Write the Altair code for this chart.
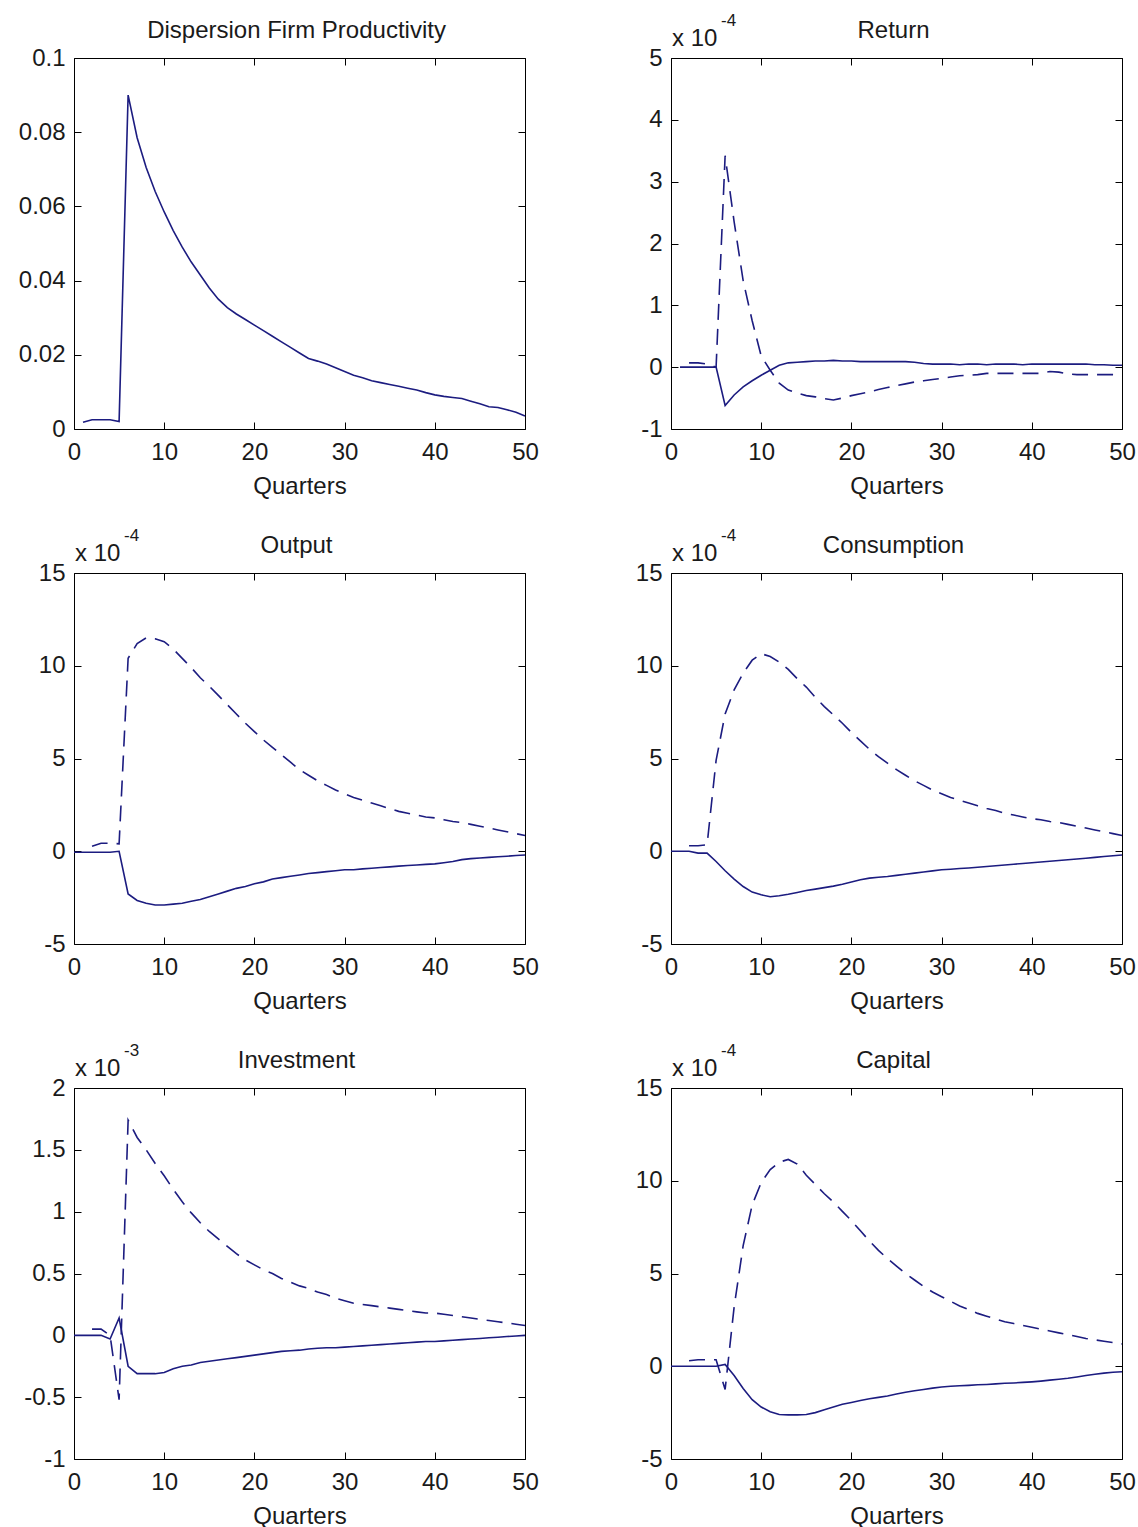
import altair as alt
import pandas as pd

# ---------------- data ----------------
x_ticks = [0, 10, 20, 30, 40, 50]

disp_x = list(range(1, 51))
disp_solid = [0.0018, 0.0025, 0.0025, 0.0025, 0.0020, 0.0900, 0.0785, 0.0705, 0.0640, 0.0585,
              0.0535, 0.0490, 0.0450, 0.0415, 0.0380, 0.0350, 0.0327, 0.0310, 0.0295, 0.0280,
              0.0265, 0.0250, 0.0235, 0.0220, 0.0205, 0.0190, 0.0183, 0.0175, 0.0165, 0.0155,
              0.0145, 0.0138, 0.0130, 0.0125, 0.0120, 0.0115, 0.0110, 0.0105, 0.0098, 0.0092,
              0.0088, 0.0085, 0.0082, 0.0075, 0.0068, 0.0060, 0.0058, 0.0052, 0.0045, 0.0035]
disp_yticks = [0, 0.02, 0.04, 0.06, 0.08, 0.1]

ret_x = list(range(1, 51))
ret_solid = [0, 0, 0, 0, 0, -0.62, -0.45, -0.32, -0.22, -0.13,
             -0.05, 0.03, 0.07, 0.08, 0.09, 0.10, 0.10, 0.11, 0.10, 0.10,
             0.09, 0.09, 0.09, 0.09, 0.09, 0.09, 0.08, 0.06, 0.05, 0.05,
             0.05, 0.04, 0.05, 0.05, 0.04, 0.05, 0.05, 0.05, 0.04, 0.05,
             0.05, 0.05, 0.05, 0.05, 0.05, 0.05, 0.04, 0.04, 0.03, 0.03]
ret_dash_x = list(range(2, 51))
ret_dash = [0.07, 0.07, 0.05, 0.0, 3.42, 2.35, 1.4, 0.75, 0.18,
            -0.05, -0.26, -0.37, -0.42, -0.46, -0.48, -0.51, -0.53, -0.5, -0.46,
            -0.43, -0.4, -0.36, -0.33, -0.3, -0.27, -0.24, -0.22, -0.2, -0.18,
            -0.16, -0.14, -0.13, -0.12, -0.1, -0.1, -0.1, -0.1, -0.1, -0.1,
            -0.1, -0.07, -0.08, -0.11, -0.12, -0.12, -0.12, -0.12, -0.12, -0.12]
ret_yticks = [-1, 0, 1, 2, 3, 4, 5]

out_x = list(range(0, 51))
out_solid = [-0.05, -0.05, -0.05, -0.05, -0.05, 0.0, -2.3, -2.65, -2.8, -2.9, -2.9,
             -2.85, -2.8, -2.7, -2.6, -2.45, -2.3, -2.15, -2.0, -1.9, -1.75,
             -1.65, -1.5, -1.42, -1.35, -1.28, -1.2, -1.15, -1.1, -1.05, -1.0,
             -1.0, -0.95, -0.92, -0.88, -0.84, -0.8, -0.77, -0.74, -0.71, -0.68,
             -0.62, -0.55, -0.45, -0.4, -0.36, -0.33, -0.3, -0.27, -0.23, -0.2]
out_dash_x = list(range(2, 51))
out_dash = [0.27, 0.43, 0.43, 0.4, 10.4, 11.2, 11.5, 11.45, 11.3,
            10.9, 10.4, 9.9, 9.35, 8.9, 8.4, 7.9, 7.4, 6.9, 6.45,
            6.0, 5.6, 5.2, 4.8, 4.4, 4.1, 3.8, 3.55, 3.3, 3.1,
            2.9, 2.75, 2.6, 2.45, 2.3, 2.15, 2.05, 1.95, 1.85, 1.8,
            1.7, 1.6, 1.55, 1.45, 1.35, 1.25, 1.15, 1.05, 0.95, 0.85]
big_yticks = [-5, 0, 5, 10, 15]

con_x = list(range(0, 51))
con_solid = [0, 0, 0, -0.1, -0.1, -0.55, -1.05, -1.5, -1.9, -2.2, -2.35,
             -2.45, -2.4, -2.32, -2.22, -2.12, -2.04, -1.96, -1.88, -1.78, -1.66,
             -1.54, -1.45, -1.4, -1.36, -1.3, -1.24, -1.18, -1.12, -1.06, -1.0,
             -0.97, -0.93, -0.9, -0.86, -0.82, -0.78, -0.74, -0.7, -0.66, -0.62,
             -0.58, -0.54, -0.5, -0.46, -0.42, -0.38, -0.33, -0.28, -0.24, -0.2]
con_dash_x = list(range(2, 51))
con_dash = [0.3, 0.3, 0.35, 4.9, 7.4, 8.7, 9.6, 10.3, 10.65,
            10.5, 10.2, 9.8, 9.3, 8.85, 8.3, 7.8, 7.35, 6.9, 6.4,
            5.95, 5.5, 5.1, 4.75, 4.4, 4.1, 3.8, 3.55, 3.3, 3.1,
            2.9, 2.75, 2.6, 2.45, 2.3, 2.2, 2.05, 1.95, 1.85, 1.75,
            1.7, 1.6, 1.55, 1.45, 1.35, 1.25, 1.15, 1.05, 0.95, 0.85]

inv_x = list(range(0, 51))
inv_solid = [0, 0, 0, 0, -0.03, 0.14, -0.25, -0.31, -0.31, -0.31, -0.3,
             -0.27, -0.25, -0.24, -0.22, -0.21, -0.2, -0.19, -0.18, -0.17, -0.16,
             -0.15, -0.14, -0.13, -0.125, -0.12, -0.11, -0.105, -0.1, -0.1, -0.095,
             -0.09, -0.085, -0.08, -0.075, -0.07, -0.065, -0.06, -0.055, -0.05, -0.05,
             -0.045, -0.04, -0.035, -0.03, -0.025, -0.02, -0.015, -0.01, -0.005, 0.0]
inv_dash_x = list(range(2, 51))
inv_dash = [0.05, 0.05, 0.0, -0.52, 1.74, 1.6, 1.5, 1.39, 1.29,
            1.18, 1.08, 0.99, 0.91, 0.84, 0.78, 0.72, 0.66, 0.61, 0.57,
            0.53, 0.5, 0.46, 0.43, 0.4, 0.38, 0.35, 0.33, 0.3, 0.28,
            0.26, 0.25, 0.24, 0.23, 0.22, 0.21, 0.2, 0.19, 0.18, 0.18,
            0.17, 0.16, 0.15, 0.14, 0.13, 0.12, 0.11, 0.1, 0.09, 0.08]
inv_yticks = [-1, -0.5, 0, 0.5, 1, 1.5, 2]

cap_x = list(range(0, 51))
cap_solid = [0, 0, 0, 0, 0, 0, 0.1, -0.5, -1.2, -1.8, -2.2,
             -2.45, -2.6, -2.62, -2.62, -2.6, -2.5, -2.35, -2.2, -2.05, -1.95,
             -1.85, -1.75, -1.68, -1.6, -1.5, -1.4, -1.32, -1.25, -1.18, -1.12,
             -1.08, -1.05, -1.03, -1.0, -0.98, -0.95, -0.92, -0.9, -0.87, -0.84,
             -0.8, -0.75, -0.7, -0.65, -0.58, -0.5, -0.43, -0.37, -0.32, -0.3]
cap_dash_x = list(range(2, 51))
cap_dash = [0.3, 0.35, 0.35, 0.35, -1.25, 3.2, 6.5, 8.7, 9.9,
            10.6, 11.0, 11.15, 10.9, 10.3, 9.8, 9.3, 8.85, 8.35, 7.85,
            7.3, 6.75, 6.25, 5.8, 5.4, 5.0, 4.65, 4.3, 4.0, 3.75,
            3.5, 3.25, 3.05, 2.85, 2.7, 2.55, 2.4, 2.3, 2.2, 2.1,
            2.0, 1.9, 1.8, 1.7, 1.6, 1.5, 1.42, 1.35, 1.28, 1.2]

# ---------------- styling ----------------
W, H = 451, 371
NAVY = "#1c1c80"
TXT = "#1a1a1a"
FONT = "Liberation Sans"
FS = 24


def panel(title, expo, sx, sy, dx, dy, ydom, yticks):
    xsc = alt.Scale(domain=[0, 50], nice=False, zero=False)
    ysc = alt.Scale(domain=ydom, nice=False, zero=False)
    sdf = pd.DataFrame({"q": sx, "v": sy})
    base = alt.Chart(sdf)

    main = base.mark_line(color=NAVY, strokeWidth=1.6).encode(
        x=alt.X("q:Q", scale=xsc, axis=alt.Axis(
            orient="bottom", values=x_ticks, ticks=False, tickSize=0, domain=False, grid=False,
            labelFont=FONT, labelFontSize=FS, labelColor=TXT, labelPadding=11,
            labelFlush=False, labelOverlap=False,
            title="Quarters", titleFont=FONT, titleFontSize=FS, titleFontWeight="normal",
            titleColor=TXT, titlePadding=10)),
        y=alt.Y("v:Q", scale=ysc, axis=alt.Axis(
            orient="left", values=yticks, ticks=False, tickSize=0, domain=False, grid=False,
            labelFont=FONT, labelFontSize=FS, labelColor=TXT, labelPadding=9,
            labelFlush=False, labelOverlap=False, labelExpr="'' + datum.value",
            title=None)),
    )

    tk = dict(ticks=True, tickSize=7, tickColor="black", tickWidth=1,
              labels=False, domain=False, grid=False, title=None)
    ticks_a = base.mark_line(strokeOpacity=0).encode(
        x=alt.X("q:Q", scale=xsc, axis=alt.Axis(orient="top", offset=-H, values=x_ticks, **tk)),
        y=alt.Y("v:Q", scale=ysc, axis=alt.Axis(orient="right", offset=-W, values=yticks, **tk)),
    )
    ticks_b = base.mark_line(strokeOpacity=0).encode(
        x=alt.X("q:Q", scale=xsc, axis=alt.Axis(orient="bottom", offset=-H, values=x_ticks, **tk)),
        y=alt.Y("v:Q", scale=ysc, axis=alt.Axis(orient="left", offset=-W, values=yticks, **tk)),
    )

    layers = [main, ticks_a, ticks_b]

    if dx is not None:
        ddf = pd.DataFrame({"q": dx, "v": dy})
        dashed = alt.Chart(ddf).mark_line(color=NAVY, strokeWidth=1.6, strokeDash=[16, 9]).encode(
            x=alt.X("q:Q", scale=xsc, axis=None),
            y=alt.Y("v:Q", scale=ysc, axis=None),
        )
        layers.append(dashed)

    tdf = pd.DataFrame({"label": [title]})
    ttl = alt.Chart(tdf).mark_text(font=FONT, fontSize=FS, color=TXT, align="center",
                                   baseline="alphabetic").encode(
        x=alt.value(W / 2 - 3), y=alt.value(-20), text="label:N")
    layers.append(ttl)

    if expo is not None:
        edf = pd.DataFrame({"base": ["x 10"], "exp": [expo]})
        e1 = alt.Chart(edf).mark_text(font=FONT, fontSize=FS, color=TXT, align="left",
                                      baseline="alphabetic").encode(
            x=alt.value(1), y=alt.value(-12), text="base:N")
        e2 = alt.Chart(edf).mark_text(font=FONT, fontSize=17, color=TXT, align="left",
                                      baseline="alphabetic").encode(
            x=alt.value(50), y=alt.value(-32), text="exp:N")
        layers += [e1, e2]

    return alt.layer(*layers).resolve_axis(x="independent", y="independent").properties(
        width=W, height=H)


p1 = panel("Dispersion Firm Productivity", None, disp_x, disp_solid, None, None, [0, 0.1], disp_yticks)
p2 = panel("Return", "-4", ret_x, ret_solid, ret_dash_x, ret_dash, [-1, 5], ret_yticks)
p3 = panel("Output", "-4", out_x, out_solid, out_dash_x, out_dash, [-5, 15], big_yticks)
p4 = panel("Consumption", "-4", con_x, con_solid, con_dash_x, con_dash, [-5, 15], big_yticks)
p5 = panel("Investment", "-3", inv_x, inv_solid, inv_dash_x, inv_dash, [-1, 2], inv_yticks)
p6 = panel("Capital", "-4", cap_x, cap_solid, cap_dash_x, cap_dash, [-5, 15], big_yticks)

chart = alt.concat(p1, p2, p3, p4, p5, p6, columns=2,
                   spacing={"row": 144, "column": 146}, bounds="flush").properties(
    autosize=alt.AutoSizeParams(type="none"),
    padding={"left": 74, "top": 58, "right": 1064, "bottom": 1469},
    background="white",
).configure_view(stroke="black", strokeWidth=1)

chart.save("out.html", embed_options={"renderer": "svg", "actions": False})
